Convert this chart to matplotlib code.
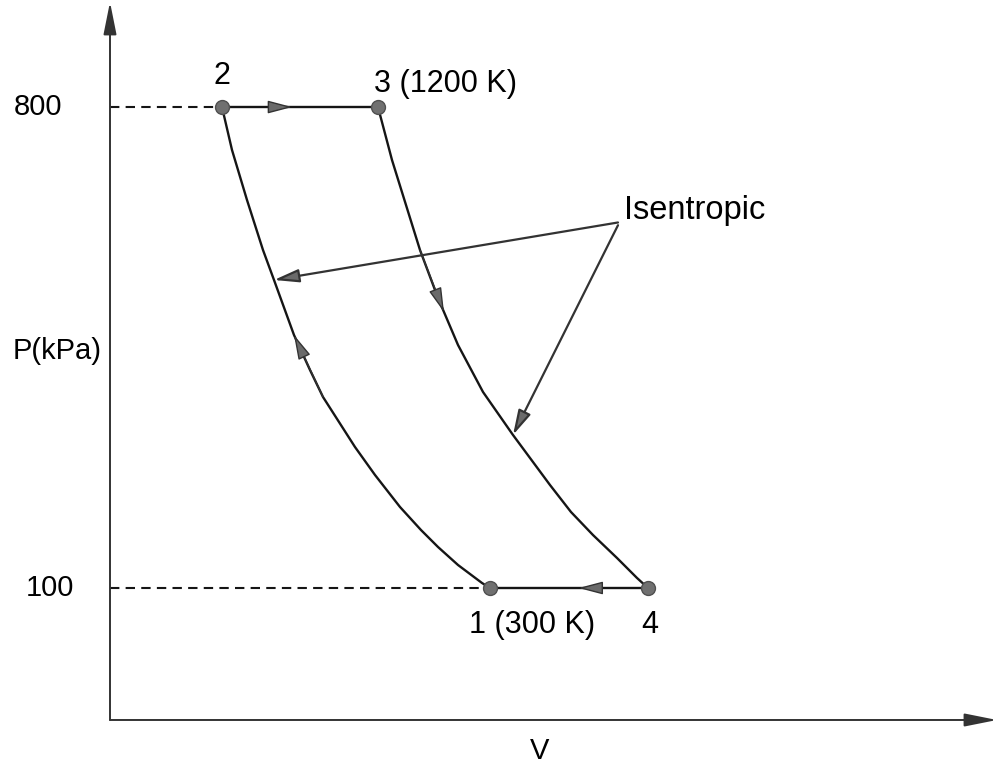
import matplotlib
matplotlib.use("Agg")
import matplotlib.pyplot as plt

# ---- data (P in kPa, V in arbitrary units) ----
state_labels = ["1 (300 K)", "2", "3 (1200 K)", "4"]
V_states = [3.80, 1.12, 2.68, 5.38]
P_states = [100, 800, 800, 100]

# compression 1 -> 2 (isentropic)
V_12 = [3.80, 3.72, 3.48, 3.28, 3.11, 2.90, 2.65, 2.45, 2.13, 2.00, 1.84, 1.64, 1.53, 1.37, 1.22, 1.12]
P_12 = [100, 107.3, 133.5, 159.7, 184.4, 217.9, 264.5, 305.2, 378.0, 417.3, 468.2, 548.3, 591.9, 664.7, 737.5, 800]
# expansion 3 -> 4 (isentropic)
V_34 = [2.68, 2.82, 2.96, 3.10, 3.28, 3.48, 3.73, 4.03, 4.40, 4.61, 4.83, 5.07, 5.27, 5.38]
P_34 = [800, 722.9, 657.4, 591.9, 522.1, 453.7, 385.3, 322.7, 249.9, 210.6, 177.1, 143.7, 114.6, 100]

p_ticks = [100, 800]
p_tick_labels = ["100", "800"]

plt.rcParams["font.family"] = ["Liberation Sans", "DejaVu Sans"]
FS = 21

fig = plt.figure(figsize=(10, 7.64), dpi=100)
ax = fig.add_axes([0.11, 0.0576, 0.887, 0.9398])
ax.set_xlim(0, 8.87)
ax.set_ylim(-92.1, 952.9)
for s in ax.spines.values():
    s.set_visible(False)
ax.set_xticks([])
ax.set_yticks([])

LC = "#151515"
AC = "#6a6a6a"

# axes with arrows
axis_arrow = dict(arrowstyle="-|>,head_length=1.1,head_width=0.22", color="#333333",
                  lw=1.4, mutation_scale=18, shrinkA=0, shrinkB=0)
ax.annotate("", xy=(0, 1), xytext=(0, 0), xycoords="axes fraction",
            textcoords="axes fraction", arrowprops=axis_arrow)
ax.annotate("", xy=(1, 0), xytext=(0, 0), xycoords="axes fraction",
            textcoords="axes fraction", arrowprops=axis_arrow)

# dashed guide lines
for p, v in [(P_states[1], V_states[1]), (P_states[0], V_states[0])]:
    ax.plot([0, v], [p, p], ls=(0, (4.5, 3)), color=LC, lw=1.5, zorder=2)

# process lines
ax.plot(V_12, P_12, color=LC, lw=1.7, zorder=3, solid_joinstyle="round")
ax.plot(V_34, P_34, color=LC, lw=1.7, zorder=3, solid_joinstyle="round")
ax.plot([V_states[1], V_states[2]], [P_states[1], P_states[2]], color=LC, lw=1.7, zorder=3)
ax.plot([V_states[3], V_states[0]], [P_states[3], P_states[0]], color=LC, lw=1.7, zorder=3)

# direction arrowheads on the path
head = dict(arrowstyle="-|>,head_length=0.95,head_width=0.25", color=AC, ec="#333333",
            lw=1.0, mutation_scale=16, shrinkA=0, shrinkB=0)

def mid(a, b, f):
    return a + (b - a) * f

f23 = 0.45
ax.annotate("", xy=(mid(V_states[1], V_states[2], f23), P_states[1]),
            xytext=(mid(V_states[1], V_states[2], f23 - 0.15), P_states[1]), arrowprops=head)
f41 = 0.44
ax.annotate("", xy=(mid(V_states[3], V_states[0], f41), P_states[3]),
            xytext=(mid(V_states[3], V_states[0], f41 - 0.15), P_states[3]), arrowprops=head)
ax.annotate("", xy=(V_12[10], P_12[10]), xytext=(V_12[8], P_12[8]), arrowprops=head)
ax.annotate("", xy=(mid(V_34[4], V_34[5], 0.3), mid(P_34[4], P_34[5], 0.3)),
            xytext=(V_34[3], P_34[3]), arrowprops=head)

# state points
ax.plot(V_states, P_states, "o", ms=10, color="#707070", mec="#505050", mew=1.0, zorder=5)

# state labels
FL = 22
ax.text(V_states[1], P_states[1] + 45, state_labels[1], fontsize=FL, ha="center", va="center")
ax.text(V_states[2] - 0.04, P_states[2] + 34, state_labels[2], fontsize=FL, ha="left", va="center")
ax.text(V_states[0] - 0.21, P_states[0] - 54, state_labels[0], fontsize=FL, ha="left", va="center")
ax.text(V_states[3] + 0.02, P_states[3] - 54, state_labels[3], fontsize=FL, ha="center", va="center")

# Isentropic annotation
ann = dict(arrowstyle="-|>,head_length=0.95,head_width=0.25", color=AC, ec="#333333",
           lw=1.6, mutation_scale=16, shrinkA=0, shrinkB=0)
ax.text(5.14, 649, "Isentropic", fontsize=23.5, ha="left", va="center")
ax.annotate("", xy=(V_12[11], P_12[11]), xytext=(5.08, 632), arrowprops=ann)
ax.annotate("", xy=(V_34[7], P_34[7]), xytext=(5.08, 628), arrowprops=ann)

# tick labels and axis labels
ax.text(-0.48, p_ticks[1], p_tick_labels[1], fontsize=FS, ha="right", va="center", clip_on=False)
ax.text(-0.36, p_ticks[0], p_tick_labels[0], fontsize=FS, ha="right", va="center", clip_on=False)
ax.text(-0.97, 445, "P(kPa)", fontsize=FS, ha="left", va="center", clip_on=False)
ax.text(4.30, -137, "V", fontsize=FS, ha="center", va="center", clip_on=False)

fig.savefig("out.png", dpi=100)
